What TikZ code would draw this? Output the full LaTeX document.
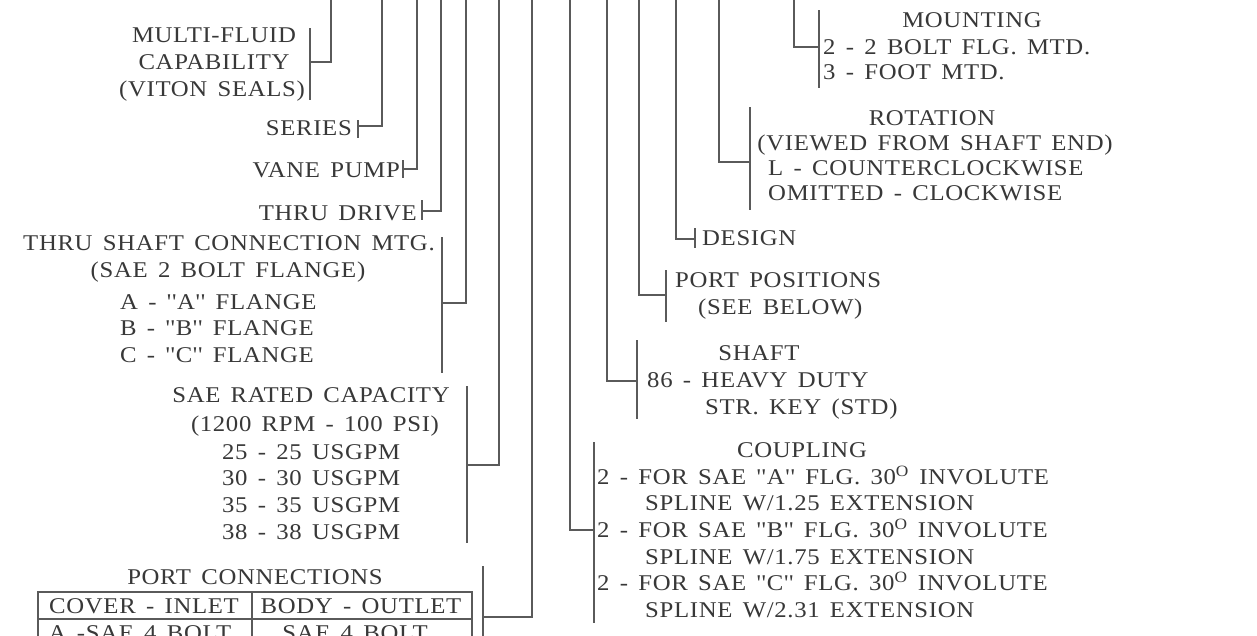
\documentclass[tikz,border=0pt]{standalone}
\usepackage{fontspec}
\setmainfont{Liberation Serif}[Ligatures=TeXOff,FakeStretch=1.1,LetterSpace=3,WordSpace=1.5]
\definecolor{txt}{HTML}{383838}
\definecolor{lncol}{HTML}{5A5A5A}
\newcommand\lblfont{\fontsize{22.5}{26}\selectfont}
\tikzset{
  lbl/.style={inner sep=0pt, text=txt, font=\lblfont},
  lw/.style={lbl, anchor=base west},
  lc/.style={lbl, anchor=base},
  le/.style={lbl, anchor=base east},
  ln/.style={draw=lncol, line width=1.2pt},
}
\begin{document}
\begin{tikzpicture}[x=1pt,y=-1pt]
\useasboundingbox (0,0) rectangle (1257,635);
\fill[white] (0,0) rectangle (1257,635);
\clip (0,0) rectangle (1257,635);

% ---------- left labels ----------
\node[lc] (mf1) at (214,42.5) {MULTI-FLUID};
\node[lc] (mf2) at (214,69.5) {CAPABILITY};
\node[lc] (mf3) at (212,96.5) {(VITON SEALS)};
\node[le] (ser) at (352,135.5) {SERIES};
\node[le] (vane) at (400,177.5) {VANE PUMP};
\node[le] (thru) at (417,220.5) {THRU DRIVE};
\node[lc] (ts1) at (229,250.5) {THRU SHAFT CONNECTION MTG.};
\node[lc] (ts2) at (228,277.5) {(SAE 2 BOLT FLANGE)};
\node[lw] (ts3) at (120,309.5) {A - ''A'' FLANGE};
\node[lw] (ts4) at (120,335.5) {B - ''B'' FLANGE};
\node[lw] (ts5) at (120,362.5) {C - ''C'' FLANGE};
\node[lc] (sae1) at (311,402.5) {SAE RATED CAPACITY};
\node[lc] (sae2) at (315,431.5) {(1200 RPM - 100 PSI)};
\node[lw] (sae3) at (222,459.5) {25 - 25 USGPM};
\node[lw] (sae4) at (222,485.5) {30 - 30 USGPM};
\node[lw] (sae5) at (222,512.5) {35 - 35 USGPM};
\node[lw] (sae6) at (222,539.5) {38 - 38 USGPM};
\node[lc] (pc) at (255,584.5) {PORT CONNECTIONS};
\node[lc] (pch1) at (144,613.5) {COVER - INLET};
\node[lc] (pch2) at (361,613.5) {BODY - OUTLET};
\node[lc] (pcr1) at (140,640.5) {A -SAE 4 BOLT};
\node[lc] (pcr2) at (355,640.5) {SAE 4 BOLT};

% ---------- right labels ----------
\node[lc] (mo1) at (972,27.5) {MOUNTING};
\node[lw] (mo2) at (823,54.5) {2 - 2 BOLT FLG. MTD.};
\node[lw] (mo3) at (823,79.5) {3 - FOOT MTD.};
\node[lc] (ro1) at (932,125.5) {ROTATION};
\node[lc] (ro2) at (935,150.5) {(VIEWED FROM SHAFT END)};
\node[lw] (ro3) at (768,175.5) {L - COUNTERCLOCKWISE};
\node[lw] (ro4) at (768,200.5) {OMITTED - CLOCKWISE};
\node[lw] (des) at (702,245.5) {DESIGN};
\node[lw] (pp1) at (675,287.5) {PORT POSITIONS};
\node[lw] (pp2) at (698,314.5) {(SEE BELOW)};
\node[lc] (sh1) at (759,360.5) {SHAFT};
\node[lw] (sh2) at (647,387.5) {86 - HEAVY DUTY};
\node[lw] (sh3) at (705,414.5) {STR. KEY (STD)};
\node[lc] (cp0) at (802,457.5) {COUPLING};
\node[lw] (cp1) at (597,484.5) {2 - FOR SAE ''A'' FLG. 30\textsuperscript{O} INVOLUTE};
\node[lw] (cp2) at (645,510.5) {SPLINE W/1.25 EXTENSION};
\node[lw] (cp3) at (597,537.5) {2 - FOR SAE ''B'' FLG. 30\textsuperscript{O} INVOLUTE};
\node[lw] (cp4) at (645,564.5) {SPLINE W/1.75 EXTENSION};
\node[lw] (cp5) at (597,590.5) {2 - FOR SAE ''C'' FLG. 30\textsuperscript{O} INVOLUTE};
\node[lw] (cp6) at (645,617.5) {SPLINE W/2.31 EXTENSION};

% ---------- tops of the leader lines ----------
\foreach \n/\x in {mf/331,se/382,va/417,td/441,ts/466,sa/499,pc/532,cp/570,sh/607,pp/639,de/676,ro/719,mo/794}
  {\coordinate (\n T) at (\x,0);}
% ---------- bracket junctions ----------
\coordinate (mfJ) at (310,62);
\coordinate (seJ) at (358,126);
\coordinate (vaJ) at (403,169);
\coordinate (tdJ) at (422,211);
\coordinate (tsJ) at (442,303);
\coordinate (saJ) at (467,465);
\coordinate (pcJ) at (483,617);
\coordinate (cpJ) at (594,530);
\coordinate (shJ) at (637,381);
\coordinate (ppJ) at (666,295);
\coordinate (deJ) at (695,239);
\coordinate (roJ) at (750,162);
\coordinate (moJ) at (819,47);

% leader lines
\foreach \n in {mf,se,va,td,ts,sa,pc,cp,sh,pp,de,ro,mo}
  {\draw[ln] (\n T) |- (\n J);}

% brackets
\draw[ln] (310,28) -- (310,100);
\draw[ln] (358,120) -- (358,138);
\draw[ln] (403,160) -- (403,178);
\draw[ln] (422,200) -- (422,220);
\draw[ln] (442,237) -- (442,373);
\draw[ln] (467,386) -- (467,543);
\draw[ln] (483,566) -- (483,640);
\draw[ln] (594,442) -- (594,623);
\draw[ln] (637,340) -- (637,419);
\draw[ln] (666,270) -- (666,322);
\draw[ln] (695,228) -- (695,248);
\draw[ln] (750,107) -- (750,210);
\draw[ln] (819,10) -- (819,88);

% port connections table
\draw[ln] (38,640) -- (38,592) -- (472,592) -- (472,640);
\draw[ln] (252,592) -- (252,640);
\draw[ln] (38,619) -- (472,619);
\end{tikzpicture}
\end{document}
